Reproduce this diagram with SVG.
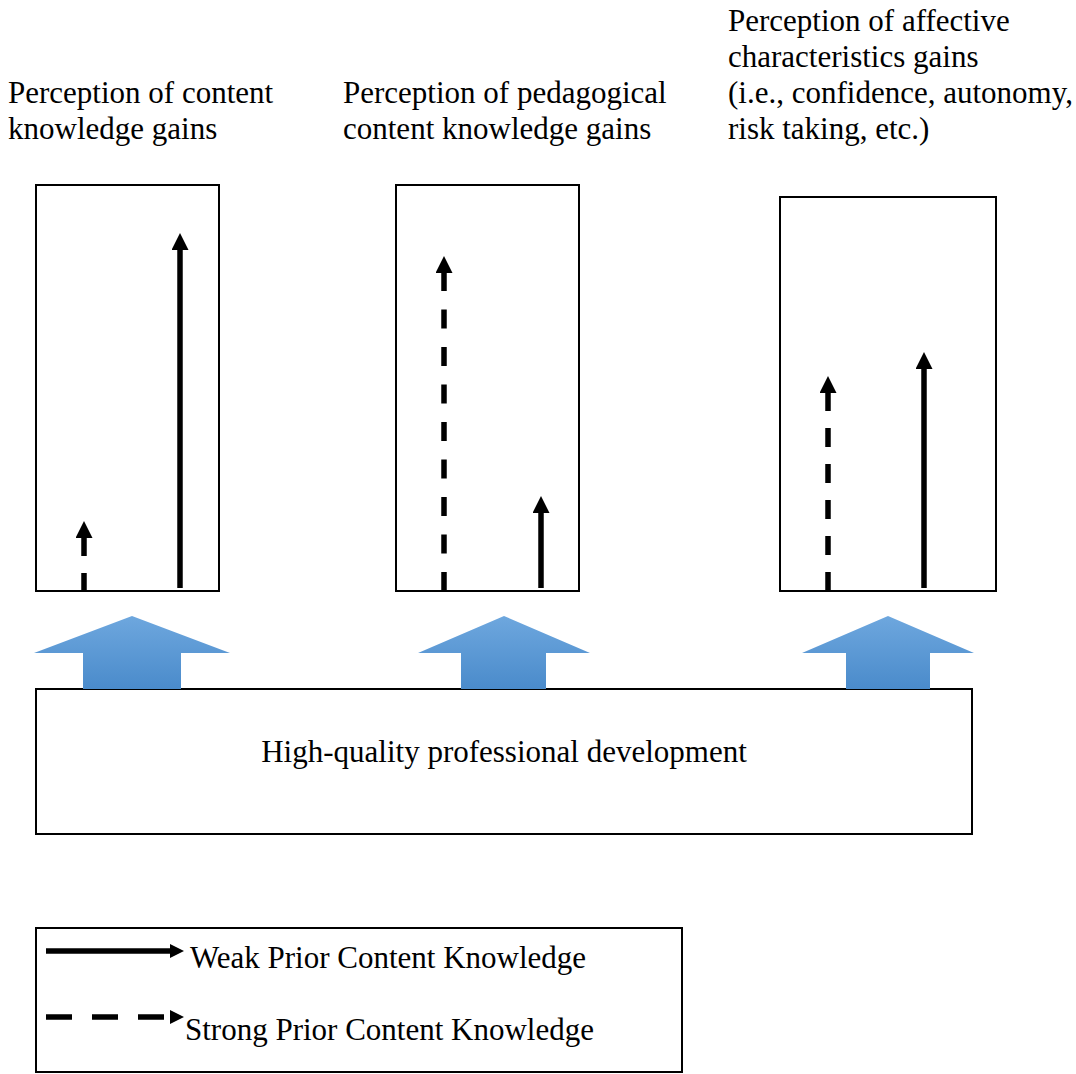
<svg xmlns="http://www.w3.org/2000/svg" width="1076" height="1074" viewBox="0 0 1076 1074">
<style>
text{font-family:"Liberation Serif","Times New Roman",serif;font-size:31px;fill:#000}
.box{fill:#fff;stroke:#000;stroke-width:2}
.sol{stroke:#000;stroke-width:5.5;fill:none}
.dsh{stroke:#000;stroke-width:5.5;fill:none;stroke-dasharray:19 17}
.blue{fill:url(#bg)}
</style>
<defs>
<linearGradient id="bg" x1="0" y1="0" x2="0" y2="1">
<stop offset="0" stop-color="#6ea7de"/>
<stop offset="1" stop-color="#4a8bcb"/>
</linearGradient>
<marker id="ah" markerUnits="userSpaceOnUse" markerWidth="17" markerHeight="17" viewBox="0 0 17 17" refX="1" refY="8.5" orient="auto-start-reverse">
<path d="M0,0 L17,8.5 L0,17 Z" fill="#000"/>
</marker>
<marker id="ahs" markerUnits="userSpaceOnUse" markerWidth="14" markerHeight="14" viewBox="0 0 14 14" refX="1" refY="7" orient="auto-start-reverse">
<path d="M0,0 L14,7 L0,14 Z" fill="#000"/>
</marker>
</defs>
<g id="label-content">
<text x="8" y="103">Perception of content</text>
<text x="8" y="139">knowledge gains</text>
</g>
<g id="label-pck">
<text x="343" y="103">Perception of pedagogical</text>
<text x="343" y="139">content knowledge gains</text>
</g>
<g id="label-affective">
<text x="728" y="31">Perception of affective</text>
<text x="728" y="67">characteristics gains</text>
<text x="728" y="103">(i.e., confidence, autonomy,</text>
<text x="728" y="139">risk taking, etc.)</text>
</g>
<g id="box-content"><rect class="box" x="36" y="185" width="183" height="406"/></g>
<g id="box-pck"><rect class="box" x="396" y="185" width="183" height="406"/></g>
<g id="box-affective"><rect class="box" x="780" y="197" width="216" height="394"/></g>
<g id="pd">
<rect class="box" x="36" y="689" width="936" height="145"/>
<text x="504" y="762" text-anchor="middle">High-quality professional development</text>
</g>
<g id="connectors">
<path class="blue" d="M132,616 L230,653 L181,653 L181,689 L83,689 L83,653 L34,653 Z"/>
<path class="blue" d="M504,616 L590,653 L546,653 L546,689 L461,689 L461,653 L418,653 Z"/>
<path class="blue" d="M888,616 L974,653 L930,653 L930,689 L846,689 L846,653 L802,653 Z"/>
<line class="dsh" x1="84" y1="537" x2="84" y2="592" marker-start="url(#ah)"/>
<line class="sol" x1="180" y1="249" x2="180" y2="588" marker-start="url(#ah)"/>
<line class="dsh" x1="444" y1="272" x2="444" y2="591" style="stroke-dasharray:19 18.5" marker-start="url(#ah)"/>
<line class="sol" x1="541" y1="512" x2="541" y2="588" marker-start="url(#ah)"/>
<line class="dsh" x1="828" y1="392" x2="828" y2="591" marker-start="url(#ah)"/>
<line class="sol" x1="924" y1="368" x2="924" y2="588" marker-start="url(#ah)"/>
</g>
<g id="legend">
<rect class="box" x="36" y="928" width="646" height="144"/>
<line class="sol" x1="46" y1="951" x2="171" y2="951" marker-end="url(#ahs)"/>
<text x="190" y="968">Weak Prior Content Knowledge</text>
<line x1="46" y1="1017" x2="171" y2="1017" stroke="#000" stroke-width="5.5" stroke-dasharray="26 20" marker-end="url(#ahs)"/>
<text x="185" y="1040">Strong Prior Content Knowledge</text>
</g>
</svg>
